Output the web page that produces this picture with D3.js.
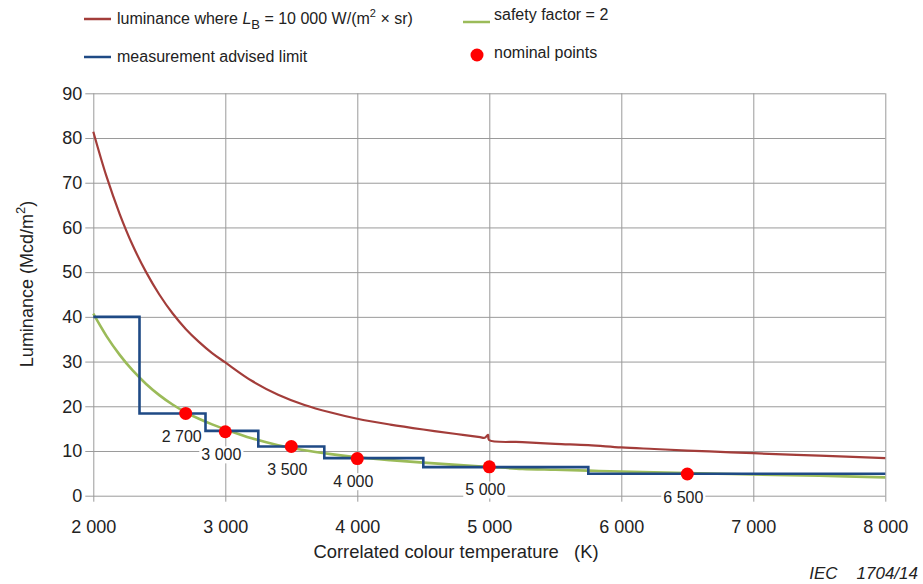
<!DOCTYPE html>
<html>
<head>
<meta charset="utf-8">
<script src="https://cdn.jsdelivr.net/npm/d3@7"></script>
<style>
  body { margin: 0; background: #fff; }
  text { font-family: Arial, "Liberation Sans", sans-serif; fill: #222; }
</style>
</head>
<body>
<div id="chart"></div>
<script>
  // luminance where L_B = 10 000 W/(m2 x sr)  [K, Mcd/m2]
  const redTemp = [2000, 2100, 2200, 2300, 2400, 2500, 2600, 2700, 2800, 2900, 3000, 3200, 3400, 3600, 3800, 4000, 4250, 4500, 4750, 4930, 4965, 4990, 4998, 5250, 5500, 5750, 6000, 6250, 6500, 6750, 7000, 7500, 8000];
  const redLum  = [81.4, 71.4, 63.0, 55.9, 50.0, 45.0, 40.8, 37.3, 34.4, 31.9, 29.8, 25.7, 22.6, 20.3, 18.6, 17.2, 15.9, 14.8, 13.8, 13.1, 12.95, 13.6, 12.45, 12.0, 11.6, 11.3, 10.8, 10.45, 10.1, 9.8, 9.5, 8.95, 8.4];

  // safety factor = 2
  const greenTemp = [2000, 2100, 2200, 2300, 2400, 2500, 2600, 2700, 2800, 2900, 3000, 3200, 3400, 3600, 3800, 4000, 4250, 4500, 4750, 5000, 5250, 5500, 5750, 6000, 6500, 7000, 7500, 8000];
  const greenLum  = [40.7, 35.7, 31.5, 27.95, 25.0, 22.5, 20.4, 18.65, 17.2, 15.95, 14.85, 12.85, 11.3, 10.15, 9.3, 8.6, 7.95, 7.4, 6.9, 6.45, 6.0, 5.8, 5.6, 5.4, 5.05, 4.75, 4.45, 4.1];

  // measurement advised limit (step edges)
  const stepEdges  = [2000, 2350, 2850, 3250, 3750, 4500, 5750, 8000];
  const stepLevels = [40,   18.4, 14.5, 11.0, 8.4,  6.4,  4.9];

  // nominal points
  const nominalTemp = [2700, 3000, 3500, 4000, 5000, 6500];
  const nominalLum  = [18.4, 14.3, 11.0, 8.3,  6.45, 4.85];

  const xTicks = [2000, 3000, 4000, 5000, 6000, 7000, 8000];
  const yTicks = [0, 10, 20, 30, 40, 50, 60, 70, 80, 90];

  const W = 923, H = 584;
  const pLeft = 93.3, pRight = 885.3, pTop = 93.3, pBottom = 495.7;

  const fmt = d3.formatLocale({decimal: '.', thousands: ' ', grouping: [3], currency: ['', '']}).format(',');

  const svg = d3.select('#chart').append('svg')
    .attr('width', W).attr('height', H);

  const x = d3.scaleLinear().domain([2000, 8000]).range([pLeft, pRight]);
  const y = d3.scaleLinear().domain([0, 90]).range([pBottom, pTop]);

  // grid + axes
  let gx = svg.append('g')
    .attr('transform', `translate(0,${pBottom + 6})`)
    .call(d3.axisBottom(x).tickValues(xTicks).tickFormat(fmt)
      .tickSize(-(pBottom - pTop + 6)).tickPadding(19));
  gx.select('.domain').remove();
  gx.selectAll('line').attr('stroke', '#9a9a9a');
  gx.selectAll('text').attr('font-size', 18).style('fill', '#222');

  let gy = svg.append('g')
    .attr('transform', `translate(${pLeft - 8},0)`)
    .call(d3.axisLeft(y).tickValues(yTicks)
      .tickSize(-(pRight - pLeft + 8)).tickPadding(3));
  gy.select('.domain').remove();
  gy.selectAll('line').attr('stroke', '#9a9a9a');
  gy.selectAll('text').attr('font-size', 18).style('fill', '#222');

  // axis titles
  svg.append('text')
    .attr('x', 456).attr('y', 558)
    .attr('text-anchor', 'middle').attr('font-size', 18.4)
    .attr('xml:space', 'preserve')
    .text('Correlated colour temperature   (K)');

  let yt = svg.append('text')
    .attr('transform', 'translate(33,284) rotate(-90)')
    .attr('text-anchor', 'middle').attr('font-size', 18);
  yt.append('tspan').text('Luminance (Mcd/m');
  yt.append('tspan').attr('font-size', 13).attr('dy', -8).text('2');
  yt.append('tspan').attr('dy', 8).text(')');

  // point labels with white background
  const labels = svg.append('g');
  nominalTemp.forEach((t, i) => {
    let g = labels.append('g')
      .attr('transform', `translate(${x(t) - 4},${y(nominalLum[i]) + 23})`);
    let txt = g.append('text')
      .attr('text-anchor', 'middle').attr('dy', '0.35em')
      .attr('font-size', 16).text(fmt(t));
    let bb = txt.node().getBBox();
    g.insert('rect', 'text')
      .attr('x', bb.x - 2).attr('y', bb.y)
      .attr('width', bb.width + 4).attr('height', bb.height)
      .attr('fill', '#fff');
  });

  const line = d3.line().x(d => x(d[0])).y(d => y(d[1]));

  // red curve
  svg.append('path')
    .datum(redTemp.map((t, i) => [t, redLum[i]]))
    .attr('d', line.curve(d3.curveCatmullRom.alpha(0.5)))
    .attr('fill', 'none').attr('stroke', '#a33d3a').attr('stroke-width', 2.2);

  // green curve
  svg.append('path')
    .datum(greenTemp.map((t, i) => [t, greenLum[i]]))
    .attr('d', line.curve(d3.curveCatmullRom.alpha(0.5)))
    .attr('fill', 'none').attr('stroke', '#9bbb59').attr('stroke-width', 2.6);

  // blue step line
  let stepPts = stepLevels.map((v, i) => [stepEdges[i], v]);
  stepPts.push([stepEdges[stepEdges.length - 1], stepLevels[stepLevels.length - 1]]);
  svg.append('path')
    .datum(stepPts)
    .attr('d', line.curve(d3.curveStepAfter))
    .attr('fill', 'none').attr('stroke', '#1f4a85').attr('stroke-width', 2.6);

  // nominal points
  svg.append('g').selectAll('circle')
    .data(nominalTemp.map((t, i) => [t, nominalLum[i]]))
    .join('circle')
    .attr('cx', d => x(d[0])).attr('cy', d => y(d[1]))
    .attr('r', 6.5).attr('fill', '#ff0000');

  // legend
  const lg = svg.append('g');
  lg.append('line').attr('x1', 84).attr('x2', 111).attr('y1', 19).attr('y2', 19)
    .attr('stroke', '#a33d3a').attr('stroke-width', 2.5);
  let t1 = lg.append('text').attr('x', 117).attr('y', 24).attr('font-size', 16);
  t1.append('tspan').text('luminance where ');
  t1.append('tspan').attr('font-style', 'italic').text('L');
  t1.append('tspan').attr('font-size', 13).attr('dy', 5).text('B');
  t1.append('tspan').attr('dy', -5).text(' = 10 000 W/(m');
  t1.append('tspan').attr('font-size', 11).attr('dy', -7).text('2');
  t1.append('tspan').attr('dy', 7).text(' × sr)');

  lg.append('line').attr('x1', 84).attr('x2', 111).attr('y1', 57).attr('y2', 57)
    .attr('stroke', '#1f4a85').attr('stroke-width', 2.5);
  lg.append('text').attr('x', 117).attr('y', 62).attr('font-size', 16)
    .text('measurement advised limit');

  lg.append('line').attr('x1', 463).attr('x2', 490).attr('y1', 22).attr('y2', 22)
    .attr('stroke', '#9bbb59').attr('stroke-width', 2.5);
  lg.append('text').attr('x', 494).attr('y', 20).attr('font-size', 16)
    .text('safety factor = 2');

  lg.append('circle').attr('cx', 477).attr('cy', 55).attr('r', 6.5).attr('fill', '#ff0000');
  lg.append('text').attr('x', 494).attr('y', 58).attr('font-size', 16)
    .text('nominal points');

  // figure id
  svg.append('text')
    .attr('x', 918).attr('y', 579).attr('text-anchor', 'end')
    .attr('font-size', 17).attr('font-style', 'italic')
    .attr('xml:space', 'preserve')
    .text('IEC    1704/14');
</script>
</body>
</html>
